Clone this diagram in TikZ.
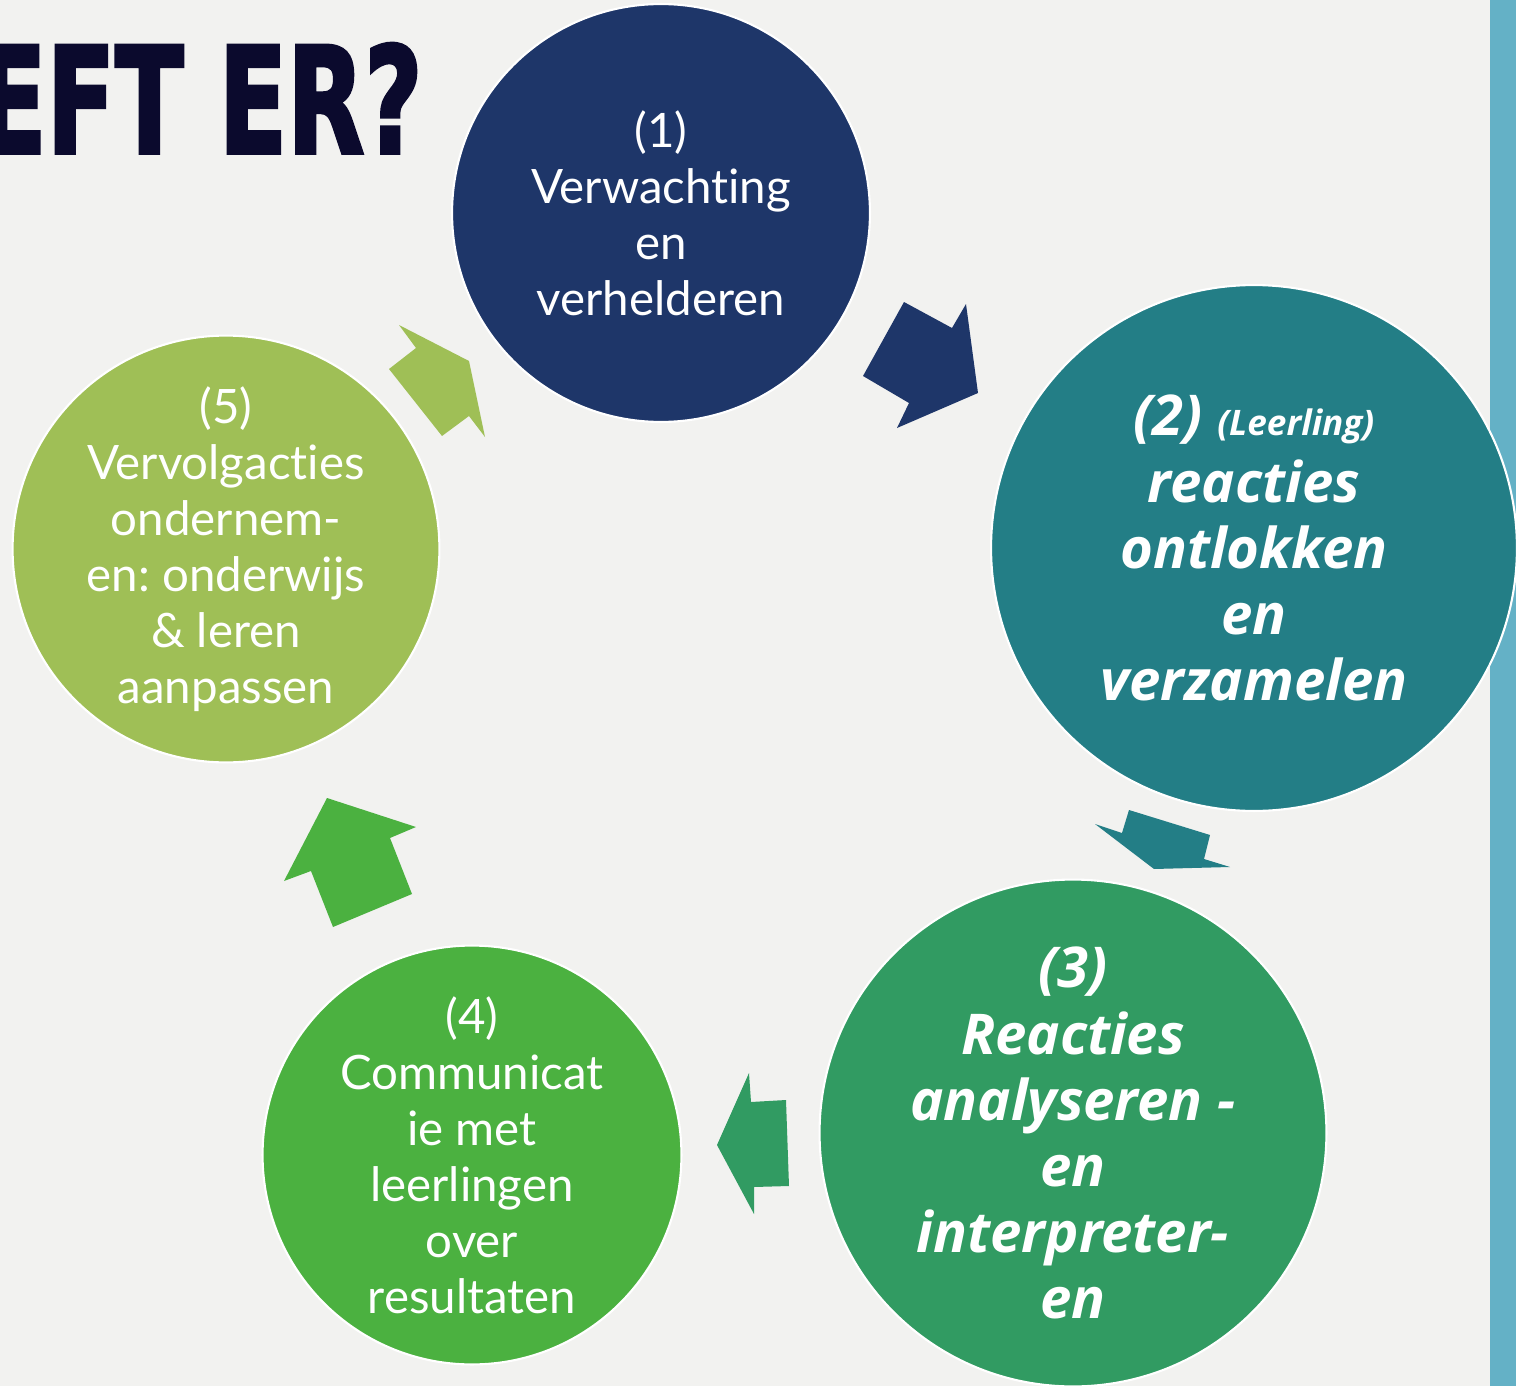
\documentclass[tikz,border=0pt]{standalone}
\usepackage{fontspec}
\setmainfont{Lato}[Ligatures=CommonOff]
\newfontfamily\titlefont{DejaVu Sans}[BoldFeatures={FakeBold=2.5}]
\newfontfamily\strongfont{Open Sans}
\frenchspacing

\definecolor{pagebg}{HTML}{F2F2F0}
\definecolor{titleink}{HTML}{0B0A2D}
\definecolor{stripe}{HTML}{64B1C6}
\definecolor{stepnavy}{HTML}{1E3669}
\definecolor{stepteal}{HTML}{237E86}
\definecolor{stepgreen}{HTML}{319B62}
\definecolor{steplime}{HTML}{4BB140}
\definecolor{stepolive}{HTML}{9FBF56}

\begin{document}
\begin{tikzpicture}[
    x=0.02cm, y=-0.02cm,
    stage/.style={
        circle,
        draw=white,
        line width=1.2pt,
        text=white,
        align=center,
        inner sep=0pt
    },
    plain/.style={font=\fontsize{27}{31.9}\selectfont},
    strong/.style={font=\fontsize{32}{37.6}\selectfont\strongfont\bfseries\itshape}
]

% page
\fill[pagebg] (0,0) rectangle (1516,1386);
\useasboundingbox (0,0) rectangle (1516,1386);
\clip (0,0) rectangle (1516,1386);
\fill[stripe] (1490,0) rectangle (1516,1386);

\node[anchor=base east, inner sep=0pt, text=titleink,
      font=\fontsize{84}{84}\selectfont\titlefont\bfseries] (title) at (423,153)
    {\scalebox{0.68}[1]{EFT ER?}};

% stages
\node[stage, plain, fill=stepnavy, minimum size=8.36cm] (s1) at (661,213)
    {(1)\\Verwachting\\en\\verhelderen};
\node[stage, strong, fill=stepteal, minimum size=10.52cm] (s2) at (1254,548)
    {(2) {\fontsize{20}{24}\selectfont(Leerling)}\\reacties\\ontlokken\\en\\verzamelen};
\node[stage, strong, fill=stepgreen, minimum size=10.14cm] (s3) at (1073,1133)
    {(3)\\Reacties\\analyseren -\\en\\interpreter-\\en};
\node[stage, plain, fill=steplime, minimum size=8.38cm] (s4) at (472,1155)
    {(4)\\Communicat\\ie met\\leerlingen\\over\\resultaten};
\node[stage, plain, fill=stepolive, minimum size=8.38cm] (s5) at (226,549)
    {(5)\\Vervolgacties\\ondernem-\\en: onderwijs\\\& leren\\aanpassen};

% block arrows
\fill[stepnavy] (904,302) -- (952,328) -- (966,304) -- (978,393)
    -- (897,428) -- (909,403) -- (863,376) -- cycle;
\fill[stepteal] (1129,810) -- (1210,835) -- (1204,859) -- (1230,867)
    -- (1154,869) -- (1095,824) -- (1122,833) -- cycle;
\fill[stepgreen] (749,1073) -- (751,1102) -- (786,1100) -- (789,1186)
    -- (754,1187) -- (754,1214) -- (717,1145) -- cycle;
\fill[steplime] (327,798) -- (416,827) -- (390,838) -- (412,894)
    -- (333,927) -- (311,871) -- (284,881) -- cycle;
\fill[stepolive] (399,325) -- (469,361) -- (485,437) -- (469,416)
    -- (442,436) -- (389,369) -- (416,348) -- cycle;

\end{tikzpicture}
\end{document}
